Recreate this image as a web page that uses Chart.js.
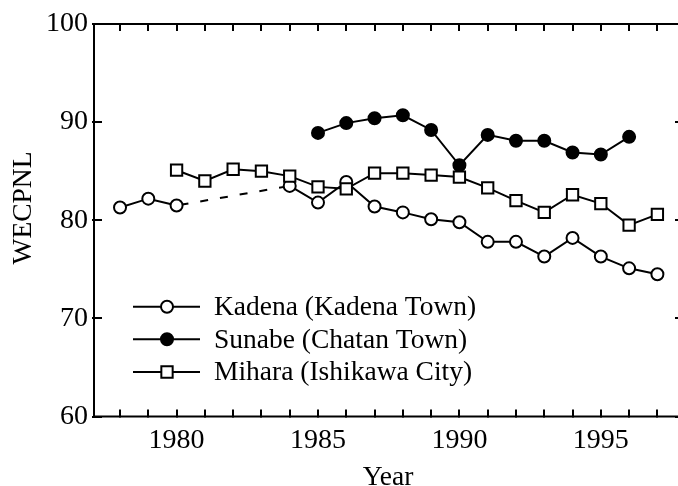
<!DOCTYPE html>
<html>
<head>
<meta charset="utf-8">
<script src="https://cdn.jsdelivr.net/npm/chart.js@4/dist/chart.umd.min.js"></script>
<style>
html,body{margin:0;padding:0;background:#fff;overflow:hidden;}
canvas{display:block;}
</style>
</head>
<body>
<canvas id="c" width="700" height="486"></canvas>
<script>
// ---- data ----
const kadenaYears  = [1978,1979,1980,1984,1985,1986,1987,1988,1989,1990,1991,1992,1993,1994,1995,1996,1997];
const kadenaValues = [81.3,82.2,81.5,83.5,81.8,83.9,81.4,80.8,80.1,79.8,77.8,77.8,76.3,78.2,76.3,75.1,74.5];
const sunabeYears  = [1985,1986,1987,1988,1989,1990,1991,1992,1993,1994,1995,1996];
const sunabeValues = [88.9,89.9,90.4,90.7,89.2,85.6,88.7,88.1,88.1,86.9,86.7,88.5];
const miharaYears  = [1980,1981,1982,1983,1984,1985,1986,1987,1988,1989,1990,1991,1992,1993,1994,1995,1996,1997];
const miharaValues = [85.1,84.0,85.2,85.0,84.5,83.4,83.2,84.8,84.8,84.6,84.4,83.3,82.0,80.8,82.6,81.7,79.5,80.6];
const seriesLabels = ["Kadena (Kadena Town)","Sunabe (Chatan Town)","Mihara (Ishikawa City)"];
const xLabelYears = [1980,1985,1990,1995];
const yTickValues = [60,70,80,90,100];
const xTitle = "Year";
const yTitle = "WECPNL";

const pts = (xs, ys) => xs.map((x, i) => ({x: x, y: ys[i]}));
const FONT = "'Liberation Serif', 'Times New Roman', serif";
const TICK_FS = 28;
const TEXT_FS = 27.5;

const frameTicks = {
  id: 'frameTicks',
  afterDatasetsDraw(chart) {
    const ctx = chart.ctx, a = chart.chartArea;
    const xs = chart.scales.x, ys = chart.scales.y;
    ctx.save();
    ctx.strokeStyle = '#000';
    ctx.lineWidth = 2;
    ctx.beginPath();
    ctx.rect(a.left, a.top, a.right - a.left, a.bottom - a.top);
    ctx.stroke();
    ctx.beginPath();
    for (let yr = Math.ceil(xs.min); yr <= Math.floor(xs.max); yr++) {
      const px = Math.round(xs.getPixelForValue(yr));
      ctx.moveTo(px, a.bottom + 1); ctx.lineTo(px, a.bottom - 7);
      ctx.moveTo(px, a.top); ctx.lineTo(px, a.top + 7);
    }
    yTickValues.forEach(v => {
      const py = Math.round(ys.getPixelForValue(v));
      ctx.moveTo(a.left - 2, py); ctx.lineTo(a.left + 8, py);
      ctx.moveTo(a.right, py); ctx.lineTo(a.right - 7, py);
    });
    ctx.stroke();
    // y axis title
    ctx.fillStyle = '#000';
    ctx.font = TEXT_FS + 'px ' + FONT;
    ctx.textAlign = 'center';
    ctx.textBaseline = 'alphabetic';
    ctx.translate(30.5, 208);
    ctx.rotate(-Math.PI / 2);
    ctx.fillText(yTitle, 0, 0);
    ctx.restore();
  }
};

const legendPlugin = {
  id: 'customLegend',
  afterDraw(chart) {
    const ctx = chart.ctx;
    const order = [2, 1, 0]; // dataset indices for Kadena, Sunabe, Mihara
    const rowY = [306.7, 339.3, 372];
    ctx.save();
    order.forEach((di, r) => {
      const ds = chart.data.datasets[di];
      const y = rowY[r];
      ctx.strokeStyle = '#000';
      ctx.lineWidth = 2;
      ctx.beginPath();
      ctx.moveTo(133, y); ctx.lineTo(200, y);
      ctx.stroke();
      const cx = 167;
      ctx.fillStyle = ds.pointBackgroundColor;
      ctx.beginPath();
      if (ds.pointStyle === 'rect') {
        const s = ds.pointRadius * Math.SQRT1_2;
        ctx.rect(cx - s, y - s, 2 * s, 2 * s);
      } else {
        ctx.arc(cx, y, ds.pointRadius, 0, Math.PI * 2);
      }
      ctx.fill();
      ctx.stroke();
      ctx.fillStyle = '#000';
      ctx.font = TEXT_FS + 'px ' + FONT;
      ctx.textBaseline = 'middle';
      ctx.textAlign = 'left';
      ctx.fillText(ds.label, 214, y + 1);
    });
    ctx.restore();
  }
};

new Chart(document.getElementById('c'), {
  type: 'line',
  data: {
    datasets: [
      {
        label: seriesLabels[2],
        data: pts(miharaYears, miharaValues),
        borderColor: '#000', borderWidth: 2,
        pointStyle: 'rect', pointRadius: 8, pointBorderWidth: 2,
        pointBackgroundColor: '#fff', pointBorderColor: '#000',
        tension: 0
      },
      {
        label: seriesLabels[1],
        data: pts(sunabeYears, sunabeValues),
        borderColor: '#000', borderWidth: 2,
        pointStyle: 'circle', pointRadius: 6, pointBorderWidth: 2,
        pointBackgroundColor: '#000', pointBorderColor: '#000',
        tension: 0
      },
      {
        label: seriesLabels[0],
        data: pts(kadenaYears, kadenaValues),
        borderColor: '#000', borderWidth: 2,
        pointStyle: 'circle', pointRadius: 6, pointBorderWidth: 2,
        pointBackgroundColor: '#fff', pointBorderColor: '#000',
        tension: 0,
        segment: {
          borderDash: c => (c.p1.parsed.x - c.p0.parsed.x > 1 ? [8, 12] : undefined),
          borderDashOffset: c => (c.p1.parsed.x - c.p0.parsed.x > 1 ? -4 : 0)
        }
      }
    ]
  },
  options: {
    responsive: false,
    animation: false,
    devicePixelRatio: 1,
    layout: { padding: { left: 0, right: 18, top: 24, bottom: 0 } },
    plugins: { legend: { display: false }, tooltip: { enabled: false } },
    scales: {
      x: {
        type: 'linear', min: 1977.08, max: 1997.87,
        border: { display: false },
        grid: { display: false, drawTicks: false },
        afterBuildTicks: s => { s.ticks = xLabelYears.map(v => ({ value: v })); },
        ticks: {
          autoSkip: false, maxRotation: 0, padding: 7,
          color: '#000', font: { family: FONT, size: TICK_FS },
          callback: v => String(v)
        },
        title: {
          display: true, text: xTitle, color: '#000',
          font: { family: FONT, size: TEXT_FS }, padding: { top: 0, bottom: -8 }
        },
        afterFit: s => { s.height = 69.5; }
      },
      y: {
        min: 60, max: 100,
        border: { display: false },
        grid: { display: false, drawTicks: false },
        afterBuildTicks: s => { s.ticks = yTickValues.map(v => ({ value: v })); },
        ticks: {
          padding: 6, color: '#000', font: { family: FONT, size: TICK_FS }
        },
        title: { display: false },
        afterFit: s => { s.width = 94; }
      }
    }
  },
  plugins: [frameTicks, legendPlugin]
});
</script>
</body>
</html>
